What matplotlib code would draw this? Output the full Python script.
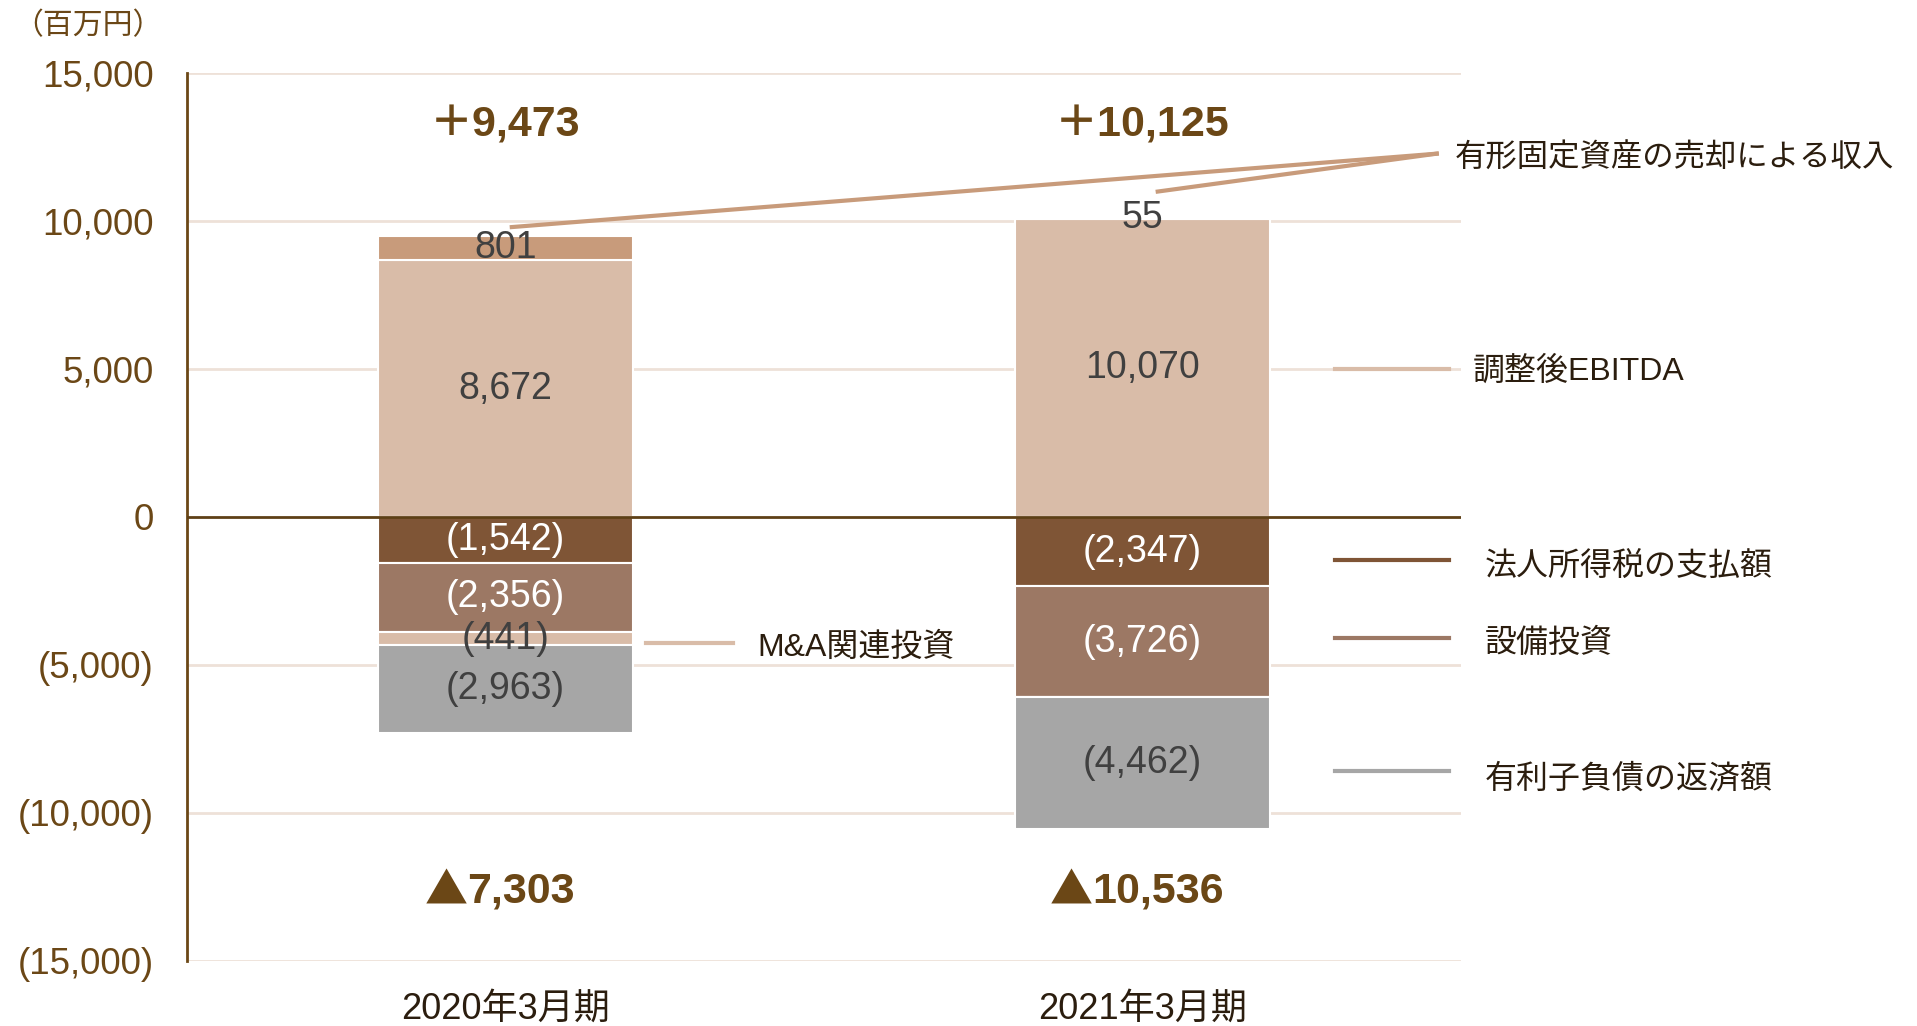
import matplotlib
matplotlib.use("Agg")
import matplotlib.pyplot as plt
import numpy as np

periods = ["2020年3月期", "2021年3月期"]
ebitda = [8672, 10070]
asset_sale = [801, 55]
tax = [-1542, -2347]
capex = [-2356, -3726]
mna = [-441, 0]
debt = [-2963, -4462]
totals_pos = ["＋9,473", "＋10,125"]
totals_neg = ["7,303", "10,536"]
yticks = [15000, 10000, 5000, 0, -5000, -10000, -15000]
ytick_labels = ["15,000", "10,000", "5,000", "0", "(5,000)", "(10,000)", "(15,000)"]

FAM = ["Liberation Sans", "Noto Sans CJK JP"]
plt.rcParams["font.family"] = FAM

BROWN = "#6B4716"
TEXT_DARK = "#2B1D0E"
LABEL_GREY = "#404040"
C_EBITDA = "#D9BCA8"
C_SALE = "#C89B7B"
C_TAX = "#7F5536"
C_CAPEX = "#9C7864"
C_MNA = "#D9BCA8"
C_DEBT = "#A6A6A6"
GRID = "#EEE1D8"

fig = plt.figure(figsize=(19.17, 10.26), dpi=100)
ax = fig.add_axes([0.0975, 0.0634, 0.6646, 0.8656])

x = np.arange(len(periods))
w = 0.4

for yv in yticks:
    if yv != 0:
        ax.axhline(yv, color=GRID, lw=2, zorder=0)

def fmt(v):
    return f"{v:,}" if v >= 0 else f"({-v:,})"

# positive stack
bottom = np.zeros(len(x))
for vals, col, tcol in [(ebitda, C_EBITDA, LABEL_GREY), (asset_sale, C_SALE, LABEL_GREY)]:
    vals = np.array(vals, dtype=float)
    ax.bar(x, vals, w, bottom=bottom, color=col, edgecolor="white", linewidth=1.5, zorder=2)
    for i, v in enumerate(vals):
        if v != 0:
            ax.text(x[i], bottom[i] + v / 2, fmt(int(v)), ha="center", va="center",
                    fontsize=27, color=tcol, zorder=4)
    bottom += vals

# negative stack
bottom = np.zeros(len(x))
for vals, col, tcol in [(tax, C_TAX, "white"), (capex, C_CAPEX, "white"),
                        (mna, C_MNA, LABEL_GREY), (debt, C_DEBT, LABEL_GREY)]:
    vals = np.array(vals, dtype=float)
    ax.bar(x, vals, w, bottom=bottom, color=col, edgecolor="white", linewidth=1.5, zorder=2)
    for i, v in enumerate(vals):
        if v != 0:
            ax.text(x[i], bottom[i] + v / 2, fmt(int(v)), ha="center", va="center",
                    fontsize=27, color=tcol, zorder=4)
    bottom += vals

ax.axhline(0, color="#5E4016", lw=2, zorder=3)

for i in range(len(x)):
    ax.text(x[i], 13220, totals_pos[i], ha="center", va="center", fontsize=31,
            fontweight="bold", color=BROWN)
    num = ax.text(x[i] + 0.025, -12650, totals_neg[i], ha="center", va="center", fontsize=31,
                  fontweight="bold", color=BROWN)
    ax.annotate("▲", xy=(0, 0.5), xycoords=num, ha="right", va="center", fontsize=31,
                fontweight="bold", color=BROWN, family=["Noto Sans CJK JP"])

# leader lines and labels on the right
ax.plot([0.01, 1.462], [9790, 12270], color=C_SALE, lw=3, clip_on=False, zorder=3)
ax.plot([1.024, 1.462], [10990, 12270], color=C_SALE, lw=3, clip_on=False, zorder=3)
ax.text(1.49, 12100, "有形固定資産の売却による収入", ha="left", va="center", fontsize=22.6,
        color=TEXT_DARK, clip_on=False)

legend_items = [
    ("調整後EBITDA", C_EBITDA, 5000, 1.518, -100),
    ("法人所得税の支払額", C_TAX, -1450, 1.537, -250),
    ("設備投資", C_CAPEX, -4100, 1.537, -200),
    ("有利子負債の返済額", C_DEBT, -8600, 1.537, -250),
]
for name, col, yv, tx, dy in legend_items:
    ax.plot([1.302, 1.481], [yv, yv], color=col, lw=3, clip_on=False)
    ax.text(tx, yv + dy, name, ha="left", va="center", fontsize=23, color=TEXT_DARK, clip_on=False)

ax.plot([0.22, 0.358], [-4260, -4260], color=C_MNA, lw=3, zorder=3)
ax.text(0.396, -4420, "M&A関連投資", ha="left", va="center", fontsize=23, color=TEXT_DARK)

ax.set_xlim(-0.5, 1.5)
ax.set_ylim(-15000, 15000)
ax.set_xticks(x)
ax.set_xticklabels(periods, fontsize=26, color=TEXT_DARK)
ax.set_yticks(yticks)
ax.set_yticklabels(ytick_labels, fontsize=26.5, color=BROWN)
ax.tick_params(axis="both", length=0)
ax.tick_params(axis="y", pad=24)
ax.tick_params(axis="x", pad=22)

for side in ["top", "right", "bottom"]:
    ax.spines[side].set_visible(False)
ax.spines["left"].set_color(BROWN)
ax.spines["left"].set_linewidth(2)

fig.text(0.007, 0.975, "（百万円）", ha="left", va="center", fontsize=21.5, color=BROWN)

fig.savefig("out.png", dpi=100)
